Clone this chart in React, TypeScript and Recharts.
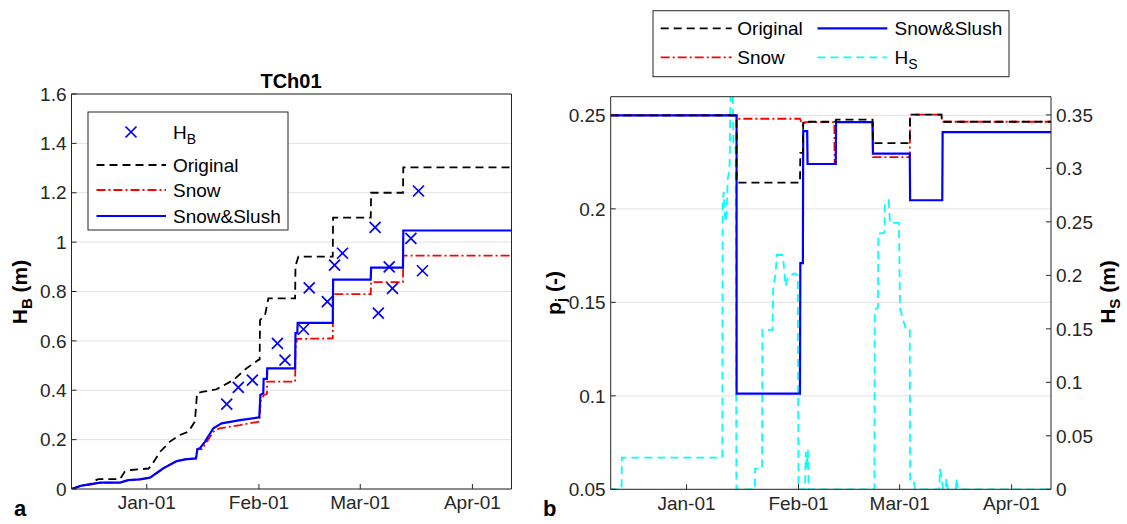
import React from "react";
import { ComposedChart, Line, Scatter, XAxis, YAxis, CartesianGrid } from "recharts";

const FONT = '"Liberation Sans", Arial, Helvetica, sans-serif';
const INK = "#262626";
const GRID = "#e2e2e2";

// x values are days relative to Jan-01
const monthTicks = [0, 31, 59, 90];
const monthLabels = ["Jan-01", "Feb-01", "Mar-01", "Apr-01"];
const hbTicks = [0, 0.2, 0.4, 0.6, 0.8, 1, 1.2, 1.4, 1.6];
const pjTicks = [0.05, 0.1, 0.15, 0.2, 0.25];
const hsTicks = [0, 0.05, 0.1, 0.15, 0.2, 0.25, 0.3, 0.35];

// panel a: ice thickness H_B (m)
const origA: [number, number][] = [
  [-20.8, 0], [-18, 0.014], [-15.7, 0.019], [-14, 0.036], [-13.4, 0.04], [-7.4, 0.04],
  [-6.1, 0.07], [-4.3, 0.077], [0.5, 0.083], [1.2, 0.093], [3.7, 0.151], [6.4, 0.192],
  [9.2, 0.219], [11.5, 0.232], [13.3, 0.273], [13.9, 0.388], [15.6, 0.394], [19.3, 0.404],
  [23.9, 0.441], [27.6, 0.489], [30.8, 0.522], [31.2, 0.525], [31.3, 0.684], [32.7, 0.705],
  [33.6, 0.772], [41.0, 0.772], [41.1, 0.904], [41.9, 0.941], [51.4, 0.941], [51.5, 1.099],
  [61.9, 1.099], [62.0, 1.2], [70.8, 1.2], [70.9, 1.303], [100.8, 1.303],
];
const snowA: [number, number][] = [
  [-20.8, 0], [-18, 0.014], [-15.7, 0.019], [-12.9, 0.026], [-7.4, 0.026], [-5.1, 0.036],
  [-1.9, 0.039], [0.9, 0.046], [4.6, 0.084], [8.3, 0.113], [10.6, 0.12], [13.6, 0.124],
  [14.0, 0.162], [15.3, 0.162], [18.4, 0.232], [20.1, 0.246], [25.8, 0.259], [31.1, 0.273],
  [31.5, 0.36], [32.4, 0.381], [33.2, 0.385], [33.3, 0.435], [41.0, 0.435], [41.1, 0.566],
  [41.5, 0.608], [51.4, 0.61], [51.5, 0.789], [61.9, 0.789], [62.0, 0.838], [70.8, 0.838],
  [70.9, 0.945], [100.8, 0.945],
];
const slushA: [number, number][] = [
  [-20.8, 0], [-18, 0.014], [-15.7, 0.019], [-12.9, 0.026], [-7.4, 0.026], [-5.1, 0.036],
  [-1.9, 0.039], [0.9, 0.046], [4.6, 0.084], [8.3, 0.113], [10.6, 0.12], [13.6, 0.124],
  [14.0, 0.162], [14.7, 0.165], [16.1, 0.192], [18.4, 0.246], [20.7, 0.266], [25.8, 0.279],
  [31.1, 0.29], [31.4, 0.381], [32.2, 0.388], [32.3, 0.446], [33.2, 0.446], [33.3, 0.489],
  [41.0, 0.489], [41.1, 0.631], [41.6, 0.631], [41.7, 0.673], [51.4, 0.673], [51.5, 0.848],
  [61.9, 0.848], [62.0, 0.897], [70.8, 0.897], [70.9, 1.047], [100.8, 1.047],
];
const hbObs: [number, number][] = [
  [22.1, 0.344], [25.3, 0.412], [29.2, 0.441], [36.1, 0.59], [38.2, 0.522], [43.3, 0.647],
  [44.9, 0.815], [49.9, 0.759], [51.9, 0.907], [54.1, 0.955], [63.1, 1.06], [64.0, 0.712],
  [67.0, 0.9], [67.9, 0.813], [73.0, 1.015], [75.1, 1.207], [76.2, 0.884],
];

// panel b: p_j (-) and slush H_S (m)
const origB: [number, number][] = [
  [-21, 0.25], [13.85, 0.25], [13.86, 0.214], [31.4, 0.214], [31.5, 0.2299], [32.2, 0.2299],
  [32.3, 0.2466], [41.3, 0.2466], [41.4, 0.2477], [51.5, 0.2477], [51.6, 0.2352], [61.8, 0.2352],
  [61.9, 0.2504], [70.6, 0.2504], [70.7, 0.2466], [100.9, 0.2466],
];
const snowB: [number, number][] = [
  [-21, 0.25], [13.85, 0.25], [13.86, 0.2482], [31.4, 0.2482], [32.3, 0.244], [32.8, 0.2464],
  [40.9, 0.2464], [41.0, 0.224], [41.3, 0.224], [41.4, 0.2464], [51.5, 0.2464], [51.6, 0.2277],
  [61.8, 0.2277], [61.9, 0.2504], [70.6, 0.2504], [70.7, 0.2466], [100.9, 0.2466],
];
const slushB: [number, number][] = [
  [-21, 0.25], [13.85, 0.25], [13.86, 0.1012], [31.4, 0.1012], [31.5, 0.171], [32.2, 0.171],
  [32.3, 0.2416], [33.4, 0.2416], [33.5, 0.224], [41.3, 0.224], [41.4, 0.2464], [51.5, 0.2464],
  [51.6, 0.2295], [61.8, 0.2295], [61.9, 0.2046], [70.8, 0.2046], [70.9, 0.2411], [100.9, 0.2411],
];
const hsB: [number, number][] = [
  [-21, 0], [-18, 0], [-17.9, 0.0296], [9.9, 0.0296], [10.0, 0.27], [10.3, 0.278], [10.6, 0.256],
  [11.0, 0.25], [11.4, 0.29], [11.9, 0.3], [12.2, 0.37], [12.8, 0.37], [13.0, 0.32], [13.6, 0.319],
  [13.8, 0], [18.9, 0], [19.0, 0.0193], [20.9, 0.0193], [21.0, 0.149], [23.8, 0.149], [24.0, 0.19],
  [24.6, 0.2], [25.0, 0.219], [26.5, 0.219], [26.8, 0.214], [27.4, 0.19], [28.1, 0.199],
  [30.0, 0.202], [30.8, 0.2], [31.0, 0], [32.8, 0], [33.0, 0.035], [33.3, 0.02], [33.6, 0.037],
  [33.8, 0], [52.0, 0], [52.1, 0.168], [53.0, 0.17], [53.1, 0.239], [54.8, 0.24], [54.9, 0.266],
  [56.0, 0.27], [56.3, 0.249], [58.8, 0.249], [59.1, 0.169], [60.0, 0.158], [60.8, 0.149],
  [61.8, 0.149], [61.9, 0.009], [62.9, 0.009], [63.2, 0], [70.0, 0], [70.1, 0.019], [70.6, 0.012],
  [71.0, 0], [71.8, 0], [71.9, 0.01], [72.4, 0], [74.6, 0], [74.7, 0.01], [75.2, 0], [100.9, 0],
];

const rows = (pts: [number, number][]) => pts.map(([d, v]) => ({ d, v }));
const fmtMonth = (d: number) => monthLabels[monthTicks.indexOf(d)] ?? "";
const fmtNum = (v: number) => String(v);

const DASH = "8 5";
const DASHDOT = "9 3 2 3";
const tickText = { fill: INK, fontSize: 19, fontFamily: FONT };

function Cross(props: any) {
  const { cx, cy } = props;
  const s = 5.5;
  return (
    <g stroke="#0000ff" strokeWidth={1.7}>
      <line x1={cx - s} y1={cy - s} x2={cx + s} y2={cy + s} />
      <line x1={cx - s} y1={cy + s} x2={cx + s} y2={cy - s} />
    </g>
  );
}

function PanelA() {
  const dom: [number, number] = [-20.8, 100.8];
  return (
    <ComposedChart width={560} height={524} margin={{ top: 93, right: 47.5, bottom: 5, left: 31.5 }}>
      <CartesianGrid xAxisId="b" yAxisId="l" vertical={false} stroke={GRID} horizontalValues={hbTicks} />
      <XAxis xAxisId="b" type="number" dataKey="d" domain={dom} ticks={monthTicks} tickFormatter={fmtMonth}
        height={30} tickSize={-5} tickMargin={12} stroke={INK} tick={tickText} allowDataOverflow />
      <XAxis xAxisId="t" orientation="top" type="number" dataKey="d" domain={dom} ticks={monthTicks}
        height={1} tick={false} tickSize={-5} stroke={INK} allowDataOverflow />
      <YAxis yAxisId="l" type="number" domain={[0, 1.6]} ticks={hbTicks} tickFormatter={fmtNum}
        width={40} tickSize={-5} tickMargin={10} stroke={INK} tick={tickText} allowDataOverflow />
      <YAxis yAxisId="r" orientation="right" type="number" domain={[0, 1.6]} ticks={hbTicks}
        width={1} tick={false} tickSize={-5} stroke={INK} allowDataOverflow />
      <Line xAxisId="b" yAxisId="l" data={rows(origA)} dataKey="v" type="linear" dot={false}
        stroke="#000000" strokeWidth={1.8} strokeDasharray={DASH} isAnimationActive={false} />
      <Line xAxisId="b" yAxisId="l" data={rows(snowA)} dataKey="v" type="linear" dot={false}
        stroke="#ff0000" strokeWidth={1.8} strokeDasharray={DASHDOT} isAnimationActive={false} />
      <Line xAxisId="b" yAxisId="l" data={rows(slushA)} dataKey="v" type="linear" dot={false}
        stroke="#0000ff" strokeWidth={2.2} isAnimationActive={false} />
      <Scatter xAxisId="b" yAxisId="l" data={rows(hbObs)} dataKey="v" shape={Cross} isAnimationActive={false} />
    </ComposedChart>
  );
}

function PanelB() {
  const dom: [number, number] = [-21, 100.9];
  return (
    <ComposedChart width={567} height={524} margin={{ top: 95.7, right: 36, bottom: 4.7, left: 10.7 }}>
      <CartesianGrid xAxisId="b" yAxisId="l" vertical={false} stroke={GRID} horizontalValues={pjTicks} />
      <XAxis xAxisId="b" type="number" dataKey="d" domain={dom} ticks={monthTicks} tickFormatter={fmtMonth}
        height={30} tickSize={-5} tickMargin={12} stroke={INK} tick={tickText} allowDataOverflow />
      <XAxis xAxisId="t" orientation="top" type="number" dataKey="d" domain={dom} ticks={monthTicks}
        height={1} tick={false} tickSize={-5} stroke={INK} allowDataOverflow />
      <YAxis yAxisId="l" type="number" domain={[0.05, 0.26]} ticks={pjTicks} tickFormatter={fmtNum}
        width={40} tickSize={-5} tickMargin={10} stroke={INK} tick={tickText} allowDataOverflow />
      <YAxis yAxisId="r" orientation="right" type="number" domain={[0, 0.367]} ticks={hsTicks}
        tickFormatter={fmtNum} width={40} tickSize={-5} tickMargin={10} stroke={INK} tick={tickText}
        allowDataOverflow />
      <Line xAxisId="b" yAxisId="r" data={rows(hsB)} dataKey="v" type="linear" dot={false}
        stroke="#00ffff" strokeWidth={1.8} strokeDasharray={DASH} isAnimationActive={false} />
      <Line xAxisId="b" yAxisId="l" data={rows(snowB)} dataKey="v" type="linear" dot={false}
        stroke="#ff0000" strokeWidth={1.8} strokeDasharray={DASHDOT} isAnimationActive={false} />
      <Line xAxisId="b" yAxisId="l" data={rows(slushB)} dataKey="v" type="linear" dot={false}
        stroke="#0000ff" strokeWidth={2.2} isAnimationActive={false} />
      <Line xAxisId="b" yAxisId="l" data={rows(origB)} dataKey="v" type="linear" dot={false}
        stroke="#000000" strokeWidth={1.8} strokeDasharray={DASH} isAnimationActive={false} />
    </ComposedChart>
  );
}

function Overlay() {
  const t = { fontFamily: FONT, fill: "#000" };
  return (
    <svg width={1127} height={524} style={{ position: "absolute", left: 0, top: 0, pointerEvents: "none" }}>
      {/* panel a title and labels */}
      <text x={291} y={88} textAnchor="middle" fontSize={20} fontWeight="bold" {...t}>TCh01</text>
      <text transform="translate(27,292) rotate(-90)" textAnchor="middle" fontSize={21} fontWeight="bold" {...t}>
        H<tspan fontSize={15} dy={5}>B</tspan><tspan dy={-5}> (m)</tspan>
      </text>
      <text x={14} y={516} fontSize={22} fontWeight="bold" {...t}>a</text>

      {/* panel a legend */}
      <rect x={88} y={112} width={200} height={118} fill="#fff" stroke={INK} strokeWidth={1} />
      <g stroke="#0000ff" strokeWidth={1.7}>
        <line x1={125.5} y1={126.5} x2={136.5} y2={137.5} />
        <line x1={125.5} y1={137.5} x2={136.5} y2={126.5} />
      </g>
      <text x={173} y={139} fontSize={19} {...t}>H<tspan fontSize={14} dy={5}>B</tspan></text>
      <line x1={96.5} y1={165} x2={166} y2={165} stroke="#000" strokeWidth={1.8} strokeDasharray={DASH} />
      <text x={173} y={171.5} fontSize={19} {...t}>Original</text>
      <line x1={96.5} y1={190} x2={166} y2={190} stroke="#ff0000" strokeWidth={1.8} strokeDasharray={DASHDOT} />
      <text x={173} y={196.5} fontSize={19} {...t}>Snow</text>
      <line x1={96.5} y1={216} x2={166} y2={216} stroke="#0000ff" strokeWidth={2.2} />
      <text x={173} y={222.5} fontSize={19} {...t}>Snow&amp;Slush</text>

      {/* panel b labels */}
      <text transform="translate(561,293) rotate(-90)" textAnchor="middle" fontSize={21} fontWeight="bold" {...t}>
        p<tspan fontSize={15} dy={5}>j</tspan><tspan dy={-5}> (-)</tspan>
      </text>
      <text transform="translate(1115,292) rotate(-90)" textAnchor="middle" fontSize={21} fontWeight="bold" {...t}>
        H<tspan fontSize={15} dy={5}>S</tspan><tspan dy={-5}> (m)</tspan>
      </text>
      <text x={543} y={516} fontSize={22} fontWeight="bold" {...t}>b</text>

      {/* panel b legend */}
      <rect x={653} y={10.7} width={356} height={66} fill="#fff" stroke={INK} strokeWidth={1} />
      <line x1={660.7} y1={28.3} x2={731.7} y2={28.3} stroke="#000" strokeWidth={1.8} strokeDasharray={DASH} />
      <text x={737.3} y={35} fontSize={19} {...t}>Original</text>
      <line x1={660.7} y1={57.3} x2={731.7} y2={57.3} stroke="#ff0000" strokeWidth={1.8} strokeDasharray={DASHDOT} />
      <text x={737.3} y={64} fontSize={19} {...t}>Snow</text>
      <line x1={817.5} y1={28.3} x2={887.3} y2={28.3} stroke="#0000ff" strokeWidth={2.2} />
      <text x={894.5} y={35} fontSize={19} {...t}>Snow&amp;Slush</text>
      <line x1={817.5} y1={57.3} x2={887.3} y2={57.3} stroke="#00ffff" strokeWidth={1.8} strokeDasharray={DASH} />
      <text x={894.5} y={64} fontSize={19} {...t}>H<tspan fontSize={14} dy={5}>S</tspan></text>
    </svg>
  );
}

export default function App() {
  return (
    <div style={{ position: "absolute", left: 0, top: 0, width: 1127, height: 524, background: "#fff" }}>
      <div style={{ position: "absolute", left: 0, top: 0 }}>
        <PanelA />
      </div>
      <div style={{ position: "absolute", left: 560, top: 0 }}>
        <PanelB />
      </div>
      <Overlay />
    </div>
  );
}
